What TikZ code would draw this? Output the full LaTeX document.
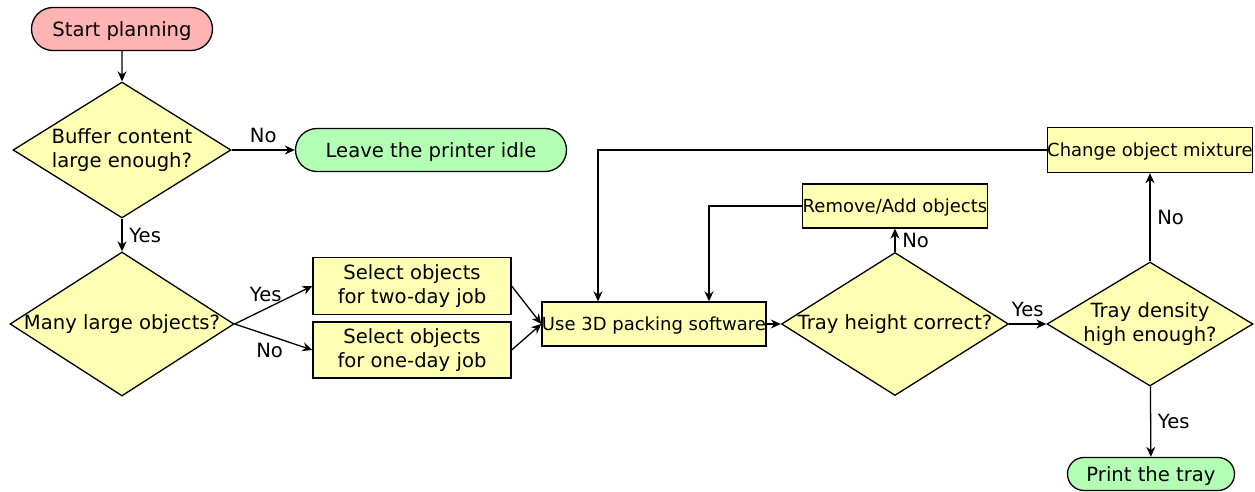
\documentclass[tikz,border=0pt]{standalone}
\usepackage{fontspec}
\setmainfont{DejaVu Sans}
\usetikzlibrary{shapes.geometric,shapes.misc,arrows.meta}

\definecolor{startred}{RGB}{255,179,179}
\definecolor{stepyellow}{RGB}{255,255,179}
\definecolor{endgreen}{RGB}{179,255,179}

\tikzset{
  term/.style={draw, rounded rectangle, inner sep=0pt, text depth=0pt},
  box/.style={draw, rectangle, fill=stepyellow, inner sep=0pt, align=center},
  dec/.style={draw, diamond, fill=stepyellow, inner sep=0pt},
  small/.style={font=\fontsize{9}{11}\selectfont, text depth=0pt}
}

\begin{document}
\begin{tikzpicture}[x=0.5pt, y=-0.5pt, line width=0.65pt,
    >={Stealth[length=5pt,width=4.5pt]}, font=\fontsize{9.8}{12}\selectfont]
    \useasboundingbox (0,0) rectangle (1255,492);

    \node[term, fill=startred, minimum width=90.5pt, minimum height=21.5pt] (start) at (122,29) {Start planning};
    \node[dec, minimum width=109pt, minimum height=68pt,
          label={[align=center]center:Buffer content\\large enough?}] (buffer) at (122,150) {};
    \node[term, fill=endgreen, minimum width=135.5pt, minimum height=21.5pt] (idle) at (431,150) {Leave the printer idle};
    \node[dec, minimum width=112pt, minimum height=72pt,
          label={center:Many large objects?}] (many) at (122,324) {};
    \node[box, minimum width=99pt, minimum height=28.5pt] (twoday) at (412,286) {Select objects\\for two-day job};
    \node[box, minimum width=99pt, minimum height=28pt] (oneday) at (412,350) {Select objects\\for one-day job};
    \node[box, small, minimum width=112pt, minimum height=22pt] (packing) at (654,324) {Use 3D packing software};
    \node[dec, minimum width=113.5pt, minimum height=71.5pt,
          label={center:Tray height correct?}] (height) at (895,324) {};
    \node[box, small, minimum width=92.5pt, minimum height=22pt] (remove) at (895,206) {Remove/Add objects};
    \node[dec, minimum width=103pt, minimum height=62pt,
          label={[align=center]center:Tray density\\high enough?}] (density) at (1150,324) {};
    \node[box, small, minimum width=101.5pt, minimum height=22.5pt] (change) at (1150,150) {Change object mixture};
    \node[term, fill=endgreen, minimum width=83.5pt, minimum height=16.5pt] (print) at (1151,474) {Print the tray};

    \draw[->] (start) -- (buffer);
    \draw[->] (buffer) -- node[above]{No} (idle);
    \draw[->] (buffer) -- node[right]{Yes} (many);
    \draw[->] (many.east) -- node[above, pos=0.4]{Yes} (twoday.west);
    \draw[->] (many.east) -- node[below, pos=0.45]{No} (oneday.west);
    \foreach \a in {twoday, oneday}
      \draw[->] (\a.east) -- (packing.west);
    \draw[->] (packing) -- (height);
    \draw[->] (height) -- node[right]{No} (remove);
    \draw[->] (remove) -| ([xshift=27.5pt]packing.north);
    \draw[->] (height) -- node[above]{Yes} (density);
    \draw[->] (density) -- node[right]{No} (change);
    \draw[->] (change) -| ([xshift=-28pt]packing.north);
    \draw[->] (density) -- node[right]{Yes} (print);
\end{tikzpicture}
\end{document}
